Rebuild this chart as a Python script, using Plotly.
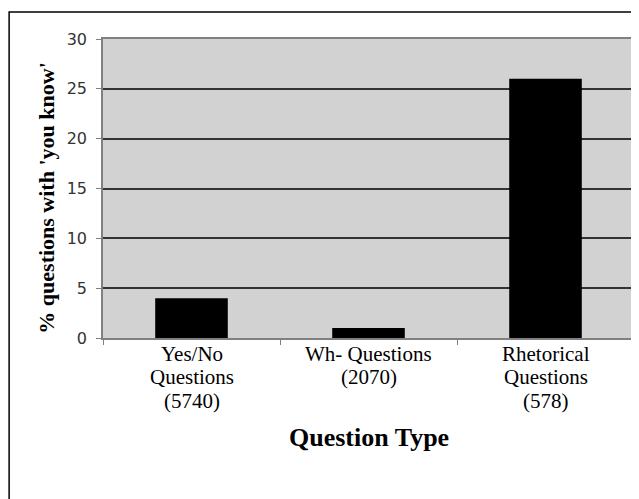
import plotly.graph_objects as go

categories = ["Yes/No<br>Questions<br>(5740)", "Wh- Questions<br>(2070)", "Rhetorical<br>Questions<br>(578)"]
values = [4, 1, 26]
y_ticks = [0, 5, 10, 15, 20, 25, 30]
x_title = "Question Type"
y_title = "% questions with 'you know'"

fig = go.Figure(go.Bar(x=categories, y=values, marker=dict(color="black", line=dict(width=0)), width=0.41))

# category labels: one annotation per text line, tight line spacing like the original
annotations = []
for cat in categories:
    for i, line in enumerate(cat.split("<br>")):
        annotations.append(dict(
            x=cat, xref="x", y=0, yref="paper", yanchor="middle", xanchor="center",
            yshift=-(15.5 + 23.5 * i), text=line, showarrow=False,
            borderpad=0, borderwidth=0,
            font=dict(family="Liberation Serif", size=21, color="black"),
        ))
annotations.append(dict(
    x=0.5, xref="paper", y=0, yref="paper", yanchor="middle", xanchor="center",
    yshift=-(429 - 330), text="<b>" + x_title + "</b>", showarrow=False,
    font=dict(family="Liberation Serif", size=26, color="black"),
))
annotations.append(dict(
    x=-0.107, xref="paper", y=0.4666, yref="paper", yanchor="middle", xanchor="center",
    text="<b>" + y_title + "</b>", textangle=-90, showarrow=False,
    font=dict(family="Liberation Serif", size=22, color="black"),
))

fig.update_layout(
    width=631, height=491,
    margin=dict(l=95, r=3, t=31, b=161, pad=0),
    paper_bgcolor="white", plot_bgcolor="#D2D2D2",
    showlegend=False,
    annotations=annotations,
    shapes=[dict(type="rect", xref="paper", yref="paper", x0=-0.1768, x1=1.05, y0=-0.7, y1=1.0903,
                 line=dict(color="black", width=1.5), fillcolor="rgba(0,0,0,0)", layer="below")],
)
fig.update_xaxes(
    type="category", tickson="boundaries", ticks="outside", ticklen=5, tickcolor="#808080", tickwidth=1,
    showline=True, linecolor="#808080", linewidth=1.5, mirror=True, showgrid=False,
    showticklabels=False,
)
fig.update_yaxes(
    range=[0, 30], tickvals=y_ticks, ticks="outside", ticklen=5, tickcolor="#808080", tickwidth=1,
    showline=True, linecolor="#808080", linewidth=1.5, mirror=True, ticklabelstandoff=6,
    showgrid=True, gridcolor="#333333", gridwidth=1.8, zeroline=False,
    tickfont=dict(family="DejaVu Sans", size=16, color="#333333"),
)

fig.write_html("out.html")
